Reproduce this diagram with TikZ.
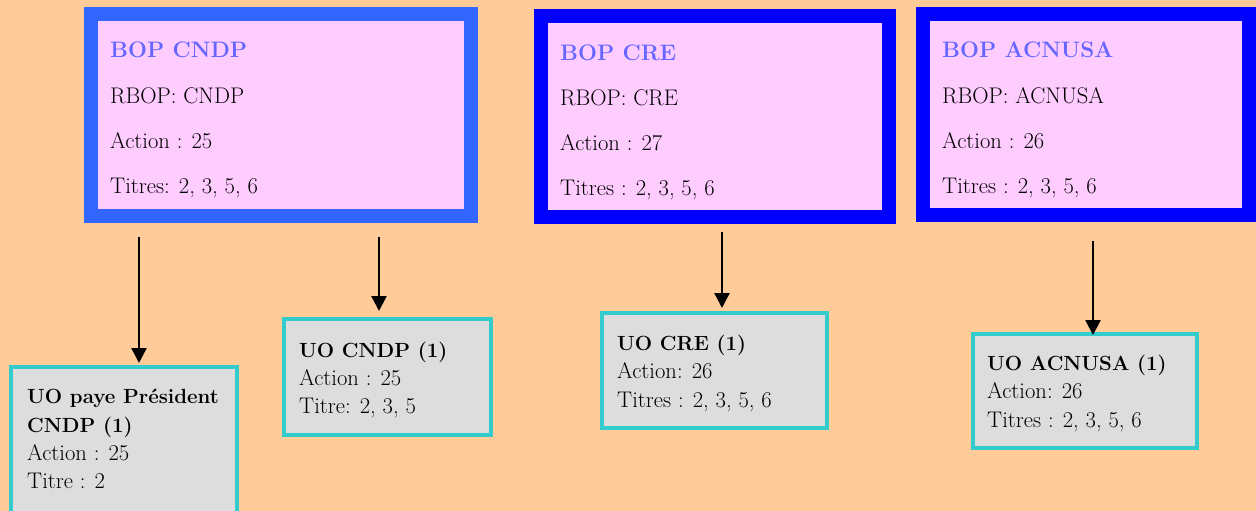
\documentclass[tikz,border=0pt]{standalone}
\usepackage{fontspec}
\usetikzlibrary{arrows.meta}
\definecolor{bg}{HTML}{FFCC99}
\definecolor{pinkfill}{HTML}{FFCCFF}
\definecolor{blueA}{HTML}{3366FF}
\definecolor{blueB}{HTML}{0000FF}
\definecolor{titleblue}{HTML}{6666FF}
\definecolor{cyanb}{HTML}{33CCCC}
\definecolor{grayfill}{HTML}{DDDDDD}
\begin{document}
\begin{tikzpicture}[x=1pt,y=-1pt,
  bopbox/.style={draw, fill=pinkfill, line width=14pt, rectangle, inner sep=0pt},
  uobox/.style={draw=cyanb, fill=grayfill, line width=4pt, rectangle, inner sep=0pt},
  txt/.style={anchor=base west, inner sep=0pt, font=\fontsize{22.6}{26}\selectfont},
  ttl/.style={txt, font=\fontsize{22.4}{26}\selectfont\bfseries, text=titleblue},
  uot/.style={txt, font=\fontsize{20.5}{24}\selectfont\bfseries},
  arr/.style={line width=2.5pt, -{Triangle[width=15pt,length=15pt]}}]
\useasboundingbox (0,0) rectangle (1256,511);
\fill[bg] (0,0) rectangle (1256,511);

% BOP boxes
\node[bopbox, draw=blueA, minimum width=380pt, minimum height=201.5pt] (bop1) at (280.5,115.25) {};
\node[bopbox, draw=blueB, minimum width=348.5pt, minimum height=201pt] (bop2) at (714.75,116.5) {};
\node[bopbox, draw=blueB, minimum width=326pt, minimum height=200.5pt] (bop3) at (1086,114.75) {};

\node[ttl] (b1t) at (110,58) {BOP CNDP};
\node[txt] (b1a) at (110,103) {RBOP: CNDP};
\node[txt] (b1b) at (110,148) {Action : 25};
\node[txt] (b1c) at (110,193) {Titres: 2, 3, 5, 6};

\node[ttl] (b2t) at (560,60) {BOP CRE};
\node[txt] (b2a) at (560,105) {RBOP: CRE};
\node[txt] (b2b) at (560,150) {Action : 27};
\node[txt] (b2c) at (560,195) {Titres : 2, 3, 5, 6};

\node[ttl] (b3t) at (942,58) {BOP ACNUSA};
\node[txt] (b3a) at (942,103) {RBOP: ACNUSA};
\node[txt] (b3b) at (942,148) {Action : 26};
\node[txt] (b3c) at (942,193) {Titres : 2, 3, 5, 6};

% UO boxes
\node[uobox, minimum width=226pt, minimum height=151pt] (uo1) at (124,442.5) {};
\node[uobox, minimum width=207pt, minimum height=116pt] (uo2) at (387.5,377) {};
\node[uobox, minimum width=225pt, minimum height=115pt] (uo3) at (714.5,370.5) {};
\node[uobox, minimum width=224pt, minimum height=114pt] (uo4) at (1085,391) {};

\node[uot] (u1t) at (27,403) {UO paye Président};
\node[uot] (u1u) at (27,432) {CNDP (1)};
\node[txt] (u1a) at (27,460) {Action : 25};
\node[txt] (u1b) at (27,488) {Titre : 2};

\node[uot] (u2t) at (299,357) {UO CNDP (1)};
\node[txt] (u2a) at (299,385) {Action : 25};
\node[txt] (u2b) at (299,413) {Titre: 2, 3, 5};

\node[uot] (u3t) at (617,350) {UO CRE (1)};
\node[txt] (u3a) at (617,378) {Action: 26};
\node[txt] (u3b) at (617,407) {Titres : 2, 3, 5, 6};

\node[uot] (u4t) at (987,370) {UO ACNUSA (1)};
\node[txt] (u4a) at (987,398) {Action: 26};
\node[txt] (u4b) at (987,427) {Titres : 2, 3, 5, 6};

% arrows
\coordinate (a1) at (139,237);
\coordinate (a2) at (379,237);
\coordinate (a3) at (722,232);
\coordinate (a4) at (1093,241);
\draw[arr, shorten >=2pt] (a1) -- (a1 |- uo1.north);
\draw[arr, shorten >=6pt] (a2) -- (a2 |- uo2.north);
\draw[arr, shorten >=3pt] (a3) -- (a3 |- uo3.north);
\draw[arr, shorten >=-3pt] (a4) -- (a4 |- uo4.north);
\end{tikzpicture}
\end{document}
